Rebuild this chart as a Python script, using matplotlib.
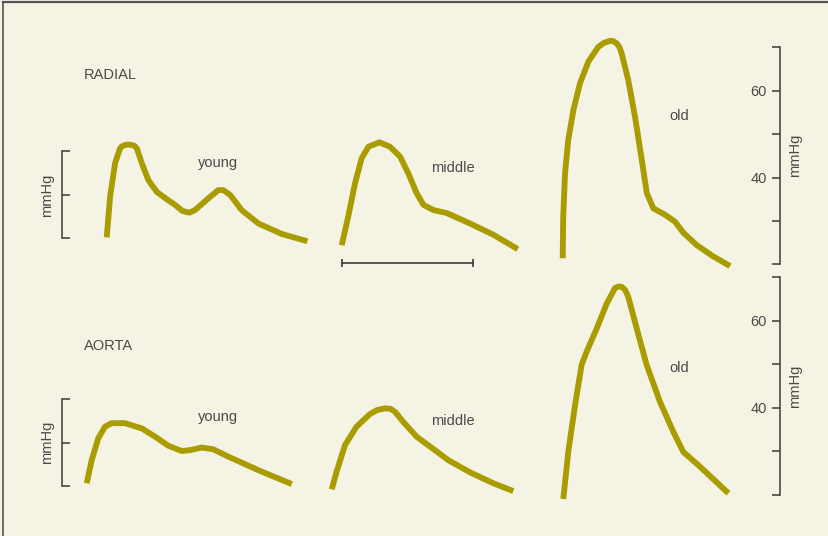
import matplotlib
matplotlib.use('Agg')
import matplotlib.pyplot as plt
from matplotlib.lines import Line2D

plt.rcParams['font.family'] = ['Liberation Sans', 'DejaVu Sans']

# pulse waves: time from the foot of the wave (ms) and pressure (mmHg)
radial_young_t = [0, 13, 32, 51, 58, 70, 81, 95, 106, 115, 134, 159, 191, 229, 261, 289, 315, 337, 388, 426, 445, 471, 515, 579, 668, 766]
radial_young_p = [26.2, 35.6, 43.3, 46.7, 47.2, 47.5, 47.6, 47.5, 47.3, 46.7, 43.3, 39.4, 36.7, 35.0, 33.7, 32.3, 31.9, 32.5, 35.2, 37.1, 37.1, 36.0, 32.5, 29.4, 27.0, 25.3]

radial_middle_t = [0, 25, 51, 76, 102, 144, 184, 223, 254, 286, 312, 350, 401, 490, 579, 672]
radial_middle_p = [24.4, 31.0, 38.7, 44.4, 47.1, 48.1, 47.1, 44.8, 41.0, 36.4, 33.7, 32.5, 31.8, 29.4, 26.8, 23.5]

radial_old_t = [0, 2, 9, 21, 41, 66, 98, 136, 157, 181, 194, 206, 217, 225, 250, 276, 302, 321, 346, 391, 429, 460, 512, 575, 639]
radial_old_p = [21.4, 31.0, 41.0, 48.6, 55.6, 61.7, 66.7, 70.1, 71.0, 71.5, 71.4, 70.9, 70.0, 68.6, 62.5, 54.0, 44.0, 36.4, 32.9, 31.4, 29.8, 27.3, 24.4, 21.8, 19.6]

aorta_young_t = [0, 19, 44, 70, 95, 146, 210, 261, 312, 363, 394, 439, 483, 541, 655, 783]
aorta_young_p = [22.7, 28.0, 33.0, 35.7, 36.5, 36.5, 35.3, 33.4, 31.3, 30.1, 30.3, 30.9, 30.5, 28.8, 25.7, 22.5]

aorta_middle_t = [0, 19, 51, 95, 146, 173, 203, 224, 242, 273, 324, 394, 445, 528, 617, 693]
aorta_middle_p = [21.3, 25.4, 31.5, 35.7, 38.6, 39.5, 39.9, 39.8, 39.1, 36.8, 33.4, 30.3, 28.0, 25.2, 22.7, 20.9]

aorta_old_t = [0, 19, 45, 70, 89, 128, 166, 197, 211, 223, 236, 248, 280, 318, 369, 420, 458, 522, 630]
aorta_old_p = [19.1, 29.9, 40.7, 49.9, 52.9, 58.3, 64.0, 67.5, 67.9, 67.8, 67.1, 65.5, 58.3, 49.9, 41.4, 34.5, 29.9, 26.5, 20.4]

row_names = ['RADIAL', 'AORTA']
age_names = ['young', 'middle', 'old']
scale_ticks = [20, 30, 40, 50, 60, 70]
scale_labels = ['', '', '40', '', '60', '']

W, H = 829, 536
BG = '#f5f3e3'
WAVE = '#a89c00'
INK = '#4a4a4a'
RULE = '#3a3a3a'
MS_PER_PX = 500 / 131

fig = plt.figure(figsize=(W / 100, H / 100), dpi=100, facecolor=BG)

# per row: pixel y of 20 and 70 mmHg, start x of each wave, left bracket base
rows = [
    dict(y20=264.3, y70=47.3, name_y=79,
         waves=[(radial_young_t, radial_young_p, 106.7),
                (radial_middle_t, radial_middle_p, 341.7),
                (radial_old_t, radial_old_p, 562.7)],
         labels=[(198, 166.5), (431, 172.5), (669, 120.5)],
         bracket=26),
    dict(y20=495.0, y70=277.3, name_y=350,
         waves=[(aorta_young_t, aorta_young_p, 86.7),
                (aorta_middle_t, aorta_middle_p, 331.7),
                (aorta_old_t, aorta_old_p, 563.3)],
         labels=[(198, 421.5), (431, 425), (669, 371.5)],
         bracket=22),
]


def fy(py):
    return 1 - py / H


for i, (row, name) in enumerate(zip(rows, row_names)):
    ppm = (row['y20'] - row['y70']) / 50.0
    ax = fig.add_axes([0, fy(row['y20']), 1, (row['y20'] - row['y70']) / H])
    ax.set_xlim(0, W * MS_PER_PX)
    ax.set_ylim(20, 70)
    ax.axis('off')
    for (t, p, x0), (lx, ly), age in zip(row['waves'], row['labels'], age_names):
        ax.plot([v + x0 * MS_PER_PX for v in t], p, color=WAVE, lw=4.2,
                solid_joinstyle='round', solid_capstyle='butt', clip_on=False)
        fig.text(lx / W, fy(ly), age, fontsize=10.5, color=INK, va='baseline')
    fig.text(84 / W, fy(row['name_y']), name, fontsize=10.5, color=INK, va='baseline')

    # time bar under the middle radial wave
    if i == 0:
        start = 342 * MS_PER_PX
        ax.plot([start, start + 500], [20.3, 20.3], color=RULE, lw=1.2,
                marker='|', ms=6, mew=1.2, clip_on=False)

    # pressure scale on the right
    sc = fig.add_axes([780.3 / W, fy(row['y20']), 0.0001, (row['y20'] - row['y70']) / H])
    sc.set_facecolor('none')
    sc.set_ylim(20, 70)
    sc.set_yticks(scale_ticks)
    sc.set_yticklabels(scale_labels)
    sc.set_xticks([])
    for side in ['top', 'right', 'bottom']:
        sc.spines[side].set_visible(False)
    sc.spines['left'].set_color(RULE)
    sc.spines['left'].set_linewidth(1.1)
    sc.tick_params(axis='y', direction='out', length=6, width=1.1, color=RULE,
                   labelsize=10.5, labelcolor=INK, pad=3.5)
    sc.yaxis.set_label_position('right')
    sc.set_ylabel('mmHg', fontsize=10.5, color=INK, labelpad=5.5)

    # 20 mmHg bracket on the left
    lo = row['bracket']
    bottom_px = row['y20'] - (lo - 20) * ppm
    br = fig.add_axes([62 / W, fy(bottom_px), 0.0001, 20 * ppm / H])
    br.set_facecolor('none')
    br.set_ylim(lo, lo + 20)
    br.set_yticks([lo, lo + 10, lo + 20])
    br.set_yticklabels([])
    br.set_xticks([])
    for side in ['top', 'right', 'bottom']:
        br.spines[side].set_visible(False)
    br.spines['left'].set_color(RULE)
    br.spines['left'].set_linewidth(1.1)
    br.tick_params(axis='y', direction='in', length=5.8, width=1.1, color=RULE)
    br.set_ylabel('mmHg', fontsize=10.5, color=INK, labelpad=2.5)

# frame lines along the top and left edge
fig.add_artist(Line2D([3 / W, 3 / W], [0, fy(1.5)], color='#555555', lw=1.2))
fig.add_artist(Line2D([3 / W, 1], [fy(1.8), fy(1.8)], color='#555555', lw=1.6))

fig.savefig('out.png', dpi=100, facecolor=BG)
